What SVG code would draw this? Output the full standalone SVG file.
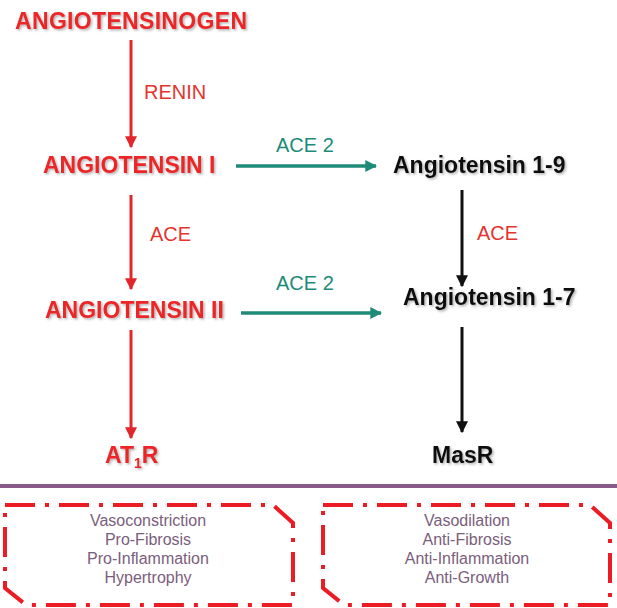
<svg xmlns="http://www.w3.org/2000/svg" width="617" height="608" viewBox="0 0 617 608">
<style>
.h{font-family:"Liberation Sans",Arial,sans-serif;font-weight:bold;font-size:23px}
.red{fill:#ec2528}
.blk{fill:#111}
.lab{font-family:"Liberation Sans",Arial,sans-serif;font-size:20px}
.lred{fill:#e5332e}
.lgrn{fill:#1e8a78}
.eff{font-family:"Liberation Sans",Arial,sans-serif;font-size:16px;fill:#7a5e7c;text-anchor:middle}
.ar{stroke:#e3262b;stroke-width:3;fill:none}
.ab{stroke:#111;stroke-width:3;fill:none}
.ag{stroke:#1e8a78;stroke-width:3.5;fill:none}
.box{fill:none;stroke:#ec1c24;stroke-width:4;stroke-dasharray:30 10 4 10}
</style>
<defs>
<filter id="sh" x="-10%" y="-30%" width="120%" height="160%">
<feDropShadow dx="1.5" dy="1.5" stdDeviation="1" flood-color="#555" flood-opacity="0.45"/>
</filter>
<marker id="mr" viewBox="0 0 10 10" refX="9" refY="5" markerWidth="4" markerHeight="4" orient="auto" markerUnits="strokeWidth"><path d="M0,0 L10,5 L0,10 Z" fill="#e3262b"/></marker>
<marker id="mb" viewBox="0 0 10 10" refX="9" refY="5" markerWidth="4" markerHeight="4" orient="auto" markerUnits="strokeWidth"><path d="M0,0 L10,5 L0,10 Z" fill="#111"/></marker>
<marker id="mg" viewBox="0 0 10 10" refX="9" refY="5" markerWidth="3.4" markerHeight="3.4" orient="auto" markerUnits="strokeWidth"><path d="M0,0 L10,5 L0,10 Z" fill="#1e8a78"/></marker>
</defs>
<rect width="617" height="608" fill="#fff"/>
<g id="connectors">
<line class="ar" x1="131" y1="40" x2="131" y2="147" marker-end="url(#mr)"/>
<line class="ar" x1="131" y1="195" x2="131" y2="289" marker-end="url(#mr)"/>
<line class="ar" x1="131" y1="330" x2="131" y2="438" marker-end="url(#mr)"/>
<line class="ab" x1="462" y1="190" x2="462" y2="286" marker-end="url(#mb)"/>
<line class="ab" x1="462" y1="327" x2="462" y2="432" marker-end="url(#mb)"/>
<line class="ag" x1="236" y1="166" x2="376" y2="166" marker-end="url(#mg)"/>
<line class="ag" x1="241" y1="313" x2="381" y2="313" marker-end="url(#mg)"/>
<text class="lab lred" x="144" y="99">RENIN</text>
<text class="lab lred" x="150" y="241">ACE</text>
<text class="lab lred" x="477" y="240">ACE</text>
<text class="lab lgrn" x="276" y="152">ACE 2</text>
<text class="lab lgrn" x="276" y="290">ACE 2</text>
</g>
<g id="angiotensinogen"><text class="h red" x="15" y="29" textLength="232" filter="url(#sh)">ANGIOTENSINOGEN</text></g>
<g id="angiotensin1"><text class="h red" x="43" y="173" filter="url(#sh)">ANGIOTENSIN I</text></g>
<g id="angiotensin19"><text class="h blk" x="393" y="173" filter="url(#sh)">Angiotensin 1-9</text></g>
<g id="angiotensin2"><text class="h red" x="45" y="318" filter="url(#sh)">ANGIOTENSIN II</text></g>
<g id="angiotensin17"><text class="h blk" x="403" y="305" filter="url(#sh)">Angiotensin 1-7</text></g>
<g id="at1r"><text class="h red" x="105" y="463" filter="url(#sh)">AT<tspan font-size="14" dy="5">1</tspan><tspan dy="-5">R</tspan></text></g>
<g id="masr"><text class="h blk" x="432" y="463" filter="url(#sh)">MasR</text></g>
<line x1="0" y1="486" x2="617" y2="486" stroke="#875a87" stroke-width="4"/>
<g id="effects-at1r">
<path class="box" d="M5,505 H273 L293,523 V605 H26 L5,588 Z"/>
<text class="eff" x="148" y="526">Vasoconstriction</text>
<text class="eff" x="148" y="545">Pro-Fibrosis</text>
<text class="eff" x="148" y="564">Pro-Inflammation</text>
<text class="eff" x="148" y="583">Hypertrophy</text>
</g>
<g id="effects-masr">
<path class="box" d="M323,505 H590 L610,523 V605 H344 L323,588 Z"/>
<text class="eff" x="467" y="526">Vasodilation</text>
<text class="eff" x="467" y="545">Anti-Fibrosis</text>
<text class="eff" x="467" y="564">Anti-Inflammation</text>
<text class="eff" x="467" y="583">Anti-Growth</text>
</g>
</svg>
